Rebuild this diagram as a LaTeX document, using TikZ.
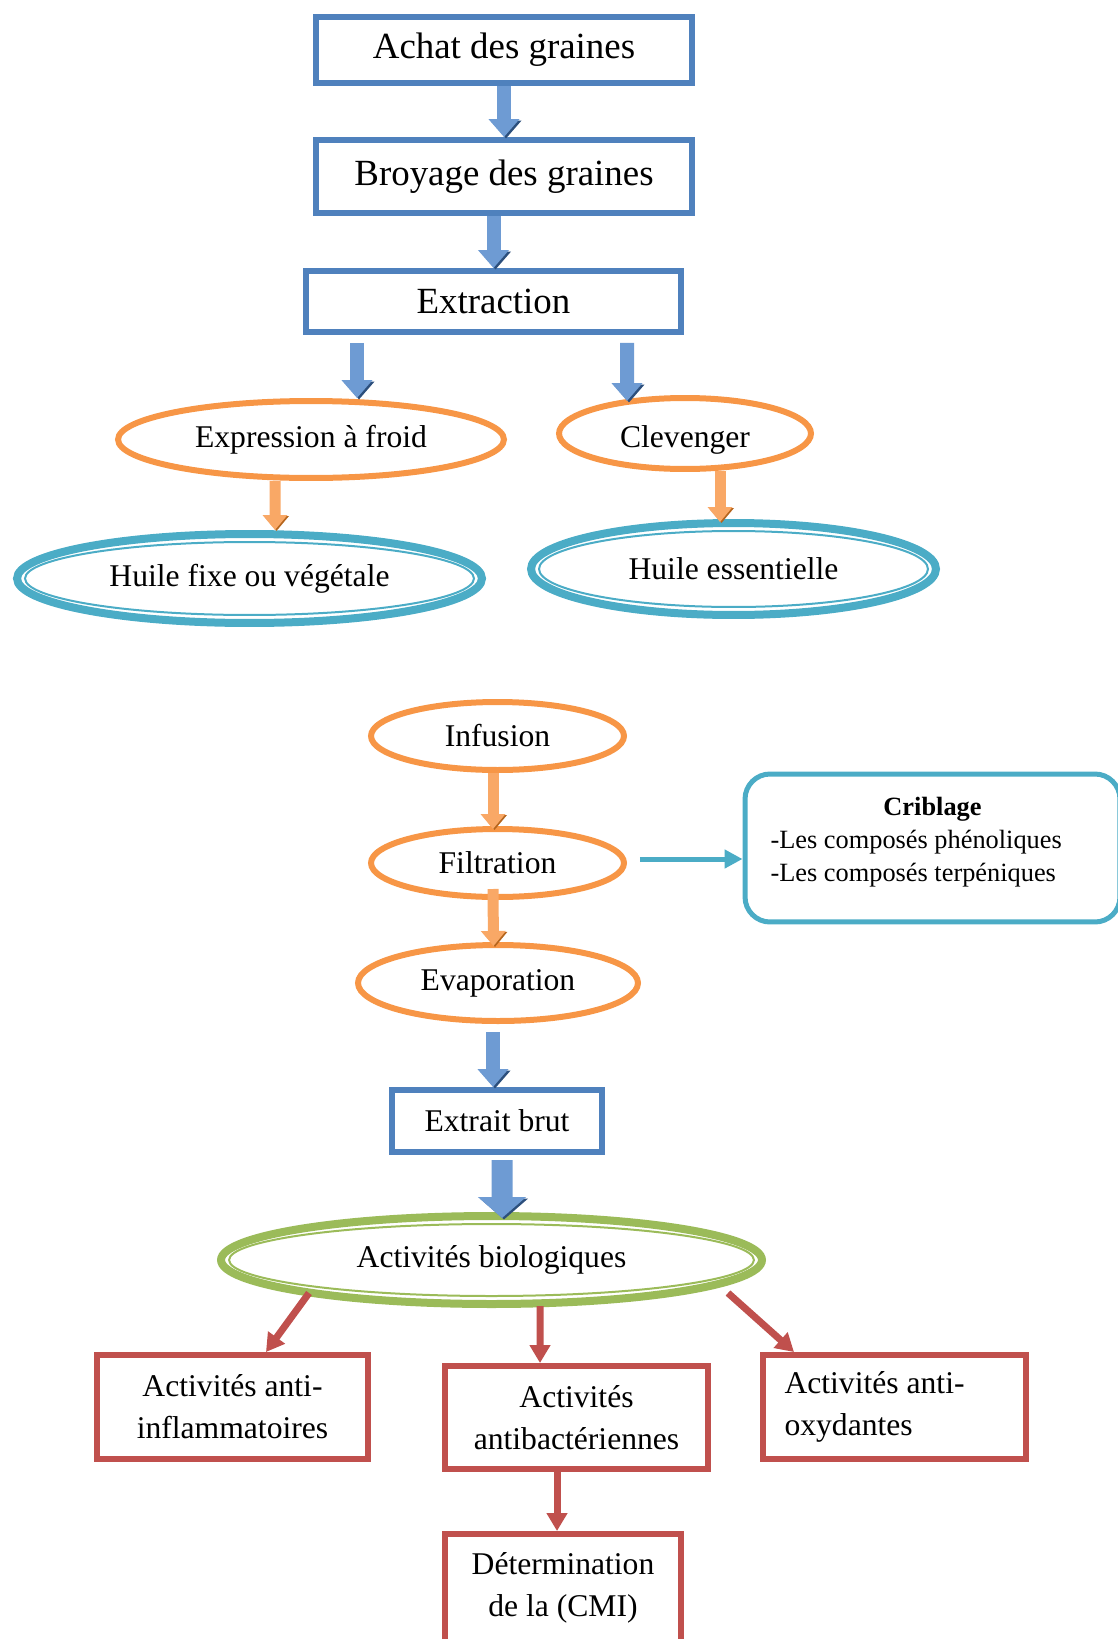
\documentclass[tikz,border=0pt]{standalone}
\usepackage{fontspec}
\setmainfont{Liberation Serif}
\usetikzlibrary{shapes.geometric, arrows.meta, positioning, calc}

\definecolor{boxblue}{HTML}{4F81BD}
\definecolor{arrowblue}{HTML}{6E9BD3}
\definecolor{shadeblue}{HTML}{2C4F7C}
\definecolor{ovalorange}{HTML}{F79646}
\definecolor{arroworange}{HTML}{F9A866}
\definecolor{shadeorange}{HTML}{B5651D}
\definecolor{oilcyan}{HTML}{4BACC6}
\definecolor{leafgreen}{HTML}{9BBB59}
\definecolor{actred}{HTML}{C0504D}

\tikzset{
  bluebox/.style={draw=boxblue, line width=0.12cm, inner sep=0pt},
  orangeoval/.style={ellipse, draw=ovalorange, line width=0.12cm, inner sep=0pt},
  ringoval/.style={ellipse, draw=#1, line width=0.16cm, inner sep=0pt},
  actbox/.style={draw=actred, line width=0.12cm, inner sep=0pt},
  notebox/.style={draw=oilcyan, line width=0.1cm, rounded corners=0.5cm, inner sep=0pt},
  bluearrow/.style={arrowblue, line width=0.28cm, -{Triangle[width=0.6cm, length=0.36cm]},
    preaction={draw=shadeblue, transform canvas={shift={(0.04cm,-0.03cm)}}}},
  bigblue/.style={bluearrow, line width=0.42cm, -{Triangle[width=0.94cm, length=0.42cm]}},
  orangearrow/.style={arroworange, line width=0.22cm, -{Triangle[width=0.48cm, length=0.3cm]},
    preaction={draw=shadeorange, transform canvas={shift={(0.03cm,-0.02cm)}}}},
  cyanarrow/.style={oilcyan, line width=0.1cm, -{Triangle[width=0.36cm, length=0.36cm]}},
  redarrow/.style={actred, line width=0.14cm, -{Triangle[width=0.4cm, length=0.36cm]}}
}

\begin{document}
\begin{tikzpicture}[x=0.02cm, y=-0.02cm, font=\fontsize{18}{24}\selectfont]
\useasboundingbox (0,0) rectangle (1117,1639);

% Graines
\node[bluebox, minimum width=7.52cm, minimum height=1.32cm, font=\fontsize{21}{25}\selectfont] (achat) at (504,50) {Achat des graines};
\node[bluebox, minimum width=7.52cm, minimum height=1.46cm, font=\fontsize{21}{25}\selectfont] (broyage) at (504,176.5) {Broyage des graines};
\node[bluebox, minimum width=7.5cm, minimum height=1.22cm, font=\fontsize{21}{25}\selectfont] (extraction) at (493.5,301.5) {Extraction};

% Huiles
\node[orangeoval, minimum width=7.72cm, minimum height=1.54cm] (expression) at (311,439.5) {Expression à froid};
\node[orangeoval, minimum width=5.04cm, minimum height=1.42cm] (clevenger) at (685,433.5) {\raisebox{-3.4pt}[\height][\depth]{Clevenger}};
\node[ringoval=oilcyan, minimum width=9.3cm, minimum height=1.78cm] (huilefixe) at (249.5,578.5) {Huile fixe ou végétale};
\node[ringoval=oilcyan, minimum width=8.1cm, minimum height=1.84cm] (huileess) at (733.5,569) {Huile essentielle};

% Extrait
\node[orangeoval, minimum width=5.06cm, minimum height=1.36cm] (infusion) at (497.5,736) {Infusion};
\node[orangeoval, minimum width=5.06cm, minimum height=1.36cm] (filtration) at (497.5,863) {Filtration};
\node[orangeoval, minimum width=5.6cm, minimum height=1.52cm] (evaporation) at (498,983) {Evaporation};
\node[notebox, minimum width=7.5cm, minimum height=2.96cm, font=\fontsize{15}{18.8}\selectfont] (criblage) at (932.5,848)
  {\raisebox{3.4pt}[\height][\depth]{\parbox{6.48cm}{\centering\textbf{Criblage}\par
   \raggedright -Les composés phénoliques\\-Les composés terpéniques}}};
\node[bluebox, minimum width=4.2cm, minimum height=1.24cm] (extrait) at (497,1121) {Extrait brut};

% Activites
\node[ringoval=leafgreen, minimum width=10.82cm, minimum height=1.76cm] (activites) at (491.5,1260) {Activités biologiques};
\node[actbox, minimum width=5.42cm, minimum height=2.08cm, align=center] (antiinfl) at (232.5,1407) {Activités anti-\\inflammatoires};
\node[actbox, minimum width=5.26cm, minimum height=2.06cm, align=center] (antibact) at (576.5,1417.5) {Activités\\antibactériennes};
\node[actbox, minimum width=5.26cm, minimum height=2.08cm, text width=4.4cm, align=flush left] (antiox) at (894.5,1407) {Activités anti-\\oxydantes};
\node[actbox, minimum width=4.72cm, minimum height=2.16cm, align=center] (cmi) at (563,1588) {Détermination\\de la (CMI)};

% inner rings
\foreach \n/\c/\rx/\ry in {huilefixe/oilcyan/4.49/0.73, huileess/oilcyan/3.89/0.76, activites/leafgreen/5.25/0.72}
  \draw[\c, line width=0.04cm] (\n.center) ellipse ({\rx cm} and {\ry cm});

% arrows
\draw[bluearrow] (achat) -- (broyage);
\draw[bluearrow] (broyage.south -| extraction.north) -- (extraction.north);
\draw[bluearrow] ([shift={(-136.5,8)}]extraction.south) -- ([shift={(46,0)}]expression.north);
\draw[bluearrow] ([shift={(133.5,8)}]extraction.south) -- ([shift={(-58,6)}]clevenger.north);
\draw[orangearrow] ([shift={(-36,0)}]expression.south) -- ([shift={(25.5,0)}]huilefixe.north);
\draw[orangearrow] ([shift={(35,-1)}]clevenger.south) -- ([shift={(-13.5,3)}]huileess.north);

\draw[orangearrow] ([shift={(-4.5,0)}]infusion.south) -- ([shift={(-4.5,3)}]filtration.north);
\draw[orangearrow] ([shift={(-4.5,-11)}]filtration.south) -- ([shift={(-4.5,4)}]evaporation.north);
\draw[cyanarrow] ([shift={(13,-4)}]filtration.east) -- ([shift={(0,-4)}]filtration.east -| criblage.west);
\draw[bluearrow] ([shift={(-5,8)}]evaporation.south) -- ([shift={(-4,0)}]extrait.north);
\draw[bigblue] ([shift={(5,5)}]extrait.south) -- ([shift={(10.5,6)}]activites.north);

\draw[redarrow] ([shift={(-182.5,33)}]activites.center) -- ([shift={(33.5,0)}]antiinfl.north);
\draw[redarrow] ([shift={(48.5,-2)}]activites.south) -- ([shift={(-36.5,0)}]antibact.north);
\draw[redarrow] ([shift={(236.5,33)}]activites.center) -- ([shift={(-100.5,0)}]antiox.north);
\draw[redarrow] ([shift={(-19.5,0)}]antibact.south) -- ([shift={(-6,0)}]cmi.north);
\end{tikzpicture}
\end{document}
